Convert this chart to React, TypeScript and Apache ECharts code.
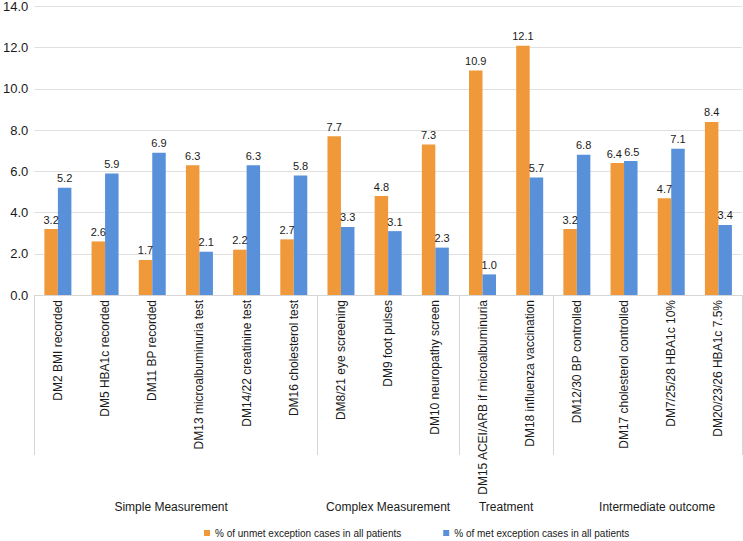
import React, { useEffect, useRef } from "react";
import * as echarts from "echarts";

const categories = [
  "DM2 BMI recorded",
  "DM5 HBA1c recorded",
  "DM11 BP recorded",
  "DM13 microalbuminuria test",
  "DM14/22 creatinine test",
  "DM16 cholesterol test",
  "DM8/21 eye screening",
  "DM9 foot pulses",
  "DM10 neuropathy screen",
  "DM15 ACEI/ARB if microalbuminuria",
  "DM18 influenza vaccination",
  "DM12/30 BP controlled",
  "DM17 cholesterol controlled",
  "DM7/25/28 HBA1c 10%",
  "DM20/23/26 HBA1c 7.5%",
];
const unmetValues = [3.2, 2.6, 1.7, 6.3, 2.2, 2.7, 7.7, 4.8, 7.3, 10.9, 12.1, 3.2, 6.4, 4.7, 8.4];
const metValues = [5.2, 5.9, 6.9, 2.1, 6.3, 5.8, 3.3, 3.1, 2.3, 1.0, 5.7, 6.8, 6.5, 7.1, 3.4];
const groupNames = ["Simple Measurement", "Complex Measurement", "Treatment", "Intermediate outcome"];
const groupBoundaries = [0, 6, 9, 11, 15];
const groupLabelPositions = [2.9, 7.5, 10, 13.2];
const seriesNames = [
  "% of unmet exception cases in all patients",
  "% of met exception cases in all patients",
];

const FONT = "Liberation Sans, Arial, Helvetica, sans-serif";
const TEXT = "#1a1a1a";

export default function App() {
  const ref = useRef<HTMLDivElement>(null);
  useEffect(() => {
    if (!ref.current) return;
    const chart = echarts.init(ref.current, undefined, { renderer: "svg" });
    const labelFor = (v: number) => {
      const i = groupLabelPositions.indexOf(v);
      return i >= 0 ? groupNames[i] : "";
    };
    const barLabel = {
      show: true,
      position: "top",
      distance: 4,
      fontSize: 11,
      color: TEXT,
      fontFamily: FONT,
      formatter: (p: any) => Number(p.value).toFixed(1),
    };
    // Nudge the two touching labels apart (DM17 pair) as in the reference
    const unmetData = unmetValues.map((v, i) =>
      i === 12 ? { value: v, label: { offset: [-3, 0] } } : v
    );
    const metData = metValues.map((v, i) =>
      i === 12 ? { value: v, label: { offset: [1, 0] } } : v
    );
    chart.setOption({
      animation: false,
      textStyle: { fontFamily: FONT },
      grid: { left: 33, right: 1, top: 5, bottom: 246, containLabel: false },
      legend: {
        left: 204,
        top: 527,
        itemWidth: 6,
        itemHeight: 6,
        itemGap: 42,
        icon: "rect",
        padding: 0,
        textStyle: { fontFamily: FONT, fontSize: 10, color: TEXT, lineHeight: 12 },
        data: seriesNames,
      },
      xAxis: [
        {
          type: "category",
          data: categories,
          position: "bottom",
          offset: 0,
          axisLine: { show: true, lineStyle: { color: "#d6d6d6", width: 1 } },
          axisTick: { show: false },
          axisLabel: {
            rotate: 90,
            interval: 0,
            margin: 5,
            fontSize: 12,
            color: TEXT,
            fontFamily: FONT,
          },
        },
        {
          type: "value",
          min: 0,
          max: 15,
          position: "bottom",
          offset: 0,
          axisLine: { show: false },
          splitLine: { show: false },
          axisTick: {
            show: true,
            length: 160,
            customValues: groupBoundaries,
            lineStyle: { color: "#d6d6d6", width: 1 },
          },
          axisLabel: {
            show: true,
            customValues: groupLabelPositions,
            formatter: (v: number) => labelFor(v),
            margin: 206,
            fontSize: 12,
            color: TEXT,
            fontFamily: FONT,
          },
        },
      ],
      yAxis: {
        type: "value",
        min: 0,
        max: 14,
        interval: 2,
        axisLine: { show: false },
        axisTick: { show: false },
        splitLine: { lineStyle: { color: "#e0e0e0", width: 1 } },
        axisLabel: {
          margin: 6,
          fontSize: 13,
          color: TEXT,
          fontFamily: FONT,
          formatter: (v: number) => v.toFixed(1),
        },
      },
      series: [
        {
          name: seriesNames[0],
          type: "bar",
          data: unmetData,
          barWidth: 13.5,
          barGap: "0%",
          itemStyle: { color: "#F0993A" },
          label: barLabel,
        },
        {
          name: seriesNames[1],
          type: "bar",
          data: metData,
          barWidth: 13.5,
          barGap: "0%",
          itemStyle: { color: "#5990DA" },
          label: barLabel,
        },
      ],
    });
    return () => chart.dispose();
  }, []);
  return <div ref={ref} style={{ width: 743, height: 541, position: "absolute", left: 0, top: 0 }} />;
}
